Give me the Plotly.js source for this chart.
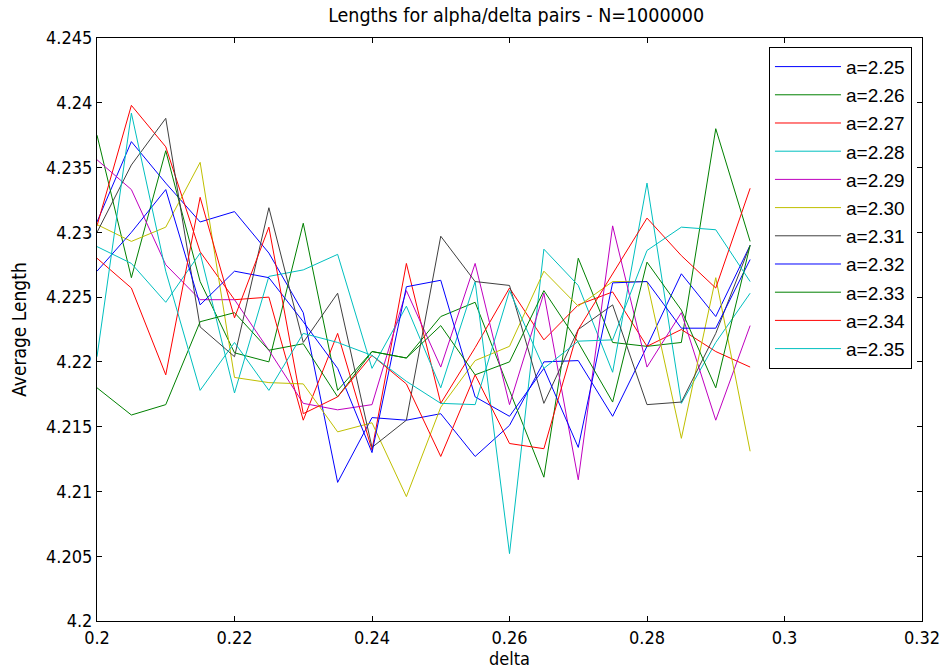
<!DOCTYPE html>
<html>
<head>
<meta charset="utf-8">
<script src="https://cdn.plot.ly/plotly-3.0.1.min.js"></script>
<style>html,body{margin:0;padding:0;background:#fff;}#chart{width:947px;height:672px;}</style>
</head>
<body>
<div id="chart"></div>
<script>
// x values (delta)
const delta = [0.2, 0.205, 0.21, 0.215, 0.22, 0.225, 0.23, 0.235, 0.24, 0.245,
               0.25, 0.255, 0.26, 0.265, 0.27, 0.275, 0.28, 0.285, 0.29, 0.295];

// series names
const seriesNames = ['a=2.25','a=2.26','a=2.27','a=2.28','a=2.29','a=2.30',
                     'a=2.31','a=2.32','a=2.33','a=2.34','a=2.35'];

// series values (average length)
const a225 = [4.2308, 4.2370, 4.2338, 4.2308, 4.2316, 4.2284, 4.2238, 4.2107, 4.2157, 4.2155,
              4.2160, 4.2127, 4.2151, 4.2200, 4.2201, 4.2158, 4.2212, 4.2268, 4.2235, 4.2290];
const a226 = [4.2375, 4.2265, 4.2363, 4.2262, 4.2207, 4.2200, 4.2307, 4.2178, 4.2208, 4.2203,
              4.2235, 4.2246, 4.2178, 4.2111, 4.2280, 4.2215, 4.2212, 4.2215, 4.2380, 4.2293];
const a227 = [4.2305, 4.2398, 4.2366, 4.2285, 4.2248, 4.2250, 4.2155, 4.2222, 4.2132, 4.2276,
              4.2168, 4.2211, 4.2257, 4.2217, 4.2244, 4.2254, 4.2212, 4.2225, 4.2208, 4.2196];
const a228 = [4.2289, 4.2276, 4.2246, 4.2284, 4.2176, 4.2266, 4.2271, 4.2283, 4.2195, 4.2243,
              4.2180, 4.2262, 4.2052, 4.2287, 4.2259, 4.2192, 4.2338, 4.2168, 4.2215, 4.2253];
const a229 = [4.2356, 4.2333, 4.2275, 4.2248, 4.2248, 4.2209, 4.2168, 4.2163, 4.2167, 4.2255,
              4.2196, 4.2276, 4.2167, 4.2253, 4.2109, 4.2305, 4.2196, 4.2238, 4.2155, 4.2228];
const a230 = [4.2306, 4.2293, 4.2304, 4.2354, 4.2188, 4.2184, 4.2183, 4.2146, 4.2153, 4.2096,
              4.2165, 4.2201, 4.2212, 4.2270, 4.2243, 4.2262, 4.2262, 4.2141, 4.2265, 4.2131];
const a231 = [4.2300, 4.2352, 4.2388, 4.2227, 4.2204, 4.2319, 4.2215, 4.2253, 4.2134, 4.2155,
              4.2297, 4.2262, 4.2259, 4.2168, 4.2225, 4.2244, 4.2167, 4.2169, 4.2222, 4.2290];
const a232 = [4.2270, 4.2300, 4.2333, 4.2244, 4.2270, 4.2265, 4.2231, 4.2195, 4.2130, 4.2258,
              4.2263, 4.2173, 4.2158, 4.2195, 4.2134, 4.2261, 4.2262, 4.2226, 4.2226, 4.2279];
const a233 = [4.2180, 4.2159, 4.2167, 4.2231, 4.2238, 4.2209, 4.2214, 4.2173, 4.2208, 4.2203,
              4.2228, 4.2190, 4.2200, 4.2255, 4.2215, 4.2169, 4.2277, 4.2240, 4.2180, 4.2290];
const a234 = [4.2280, 4.2257, 4.2190, 4.2327, 4.2234, 4.2304, 4.2160, 4.2173, 4.2205, 4.2183,
              4.2127, 4.2190, 4.2137, 4.2133, 4.2225, 4.2268, 4.2311, 4.2282, 4.2257, 4.2334];
const a235 = [4.2204, 4.2392, 4.2270, 4.2178, 4.2215, 4.2178, 4.2222, 4.2215, 4.2205, 4.2185,
              4.2168, 4.2167, 4.2255, 4.2195, 4.2216, 4.2217, 4.2286, 4.2304, 4.2302, 4.2262];

const seriesValues = [a225, a226, a227, a228, a229, a230, a231, a232, a233, a234, a235];

// tick labels
const xTickVals = [0.2, 0.22, 0.24, 0.26, 0.28, 0.3, 0.32];
const xTickText = ['0.2', '0.22', '0.24', '0.26', '0.28', '0.3', '0.32'];
const yTickVals = [4.2, 4.205, 4.21, 4.215, 4.22, 4.225, 4.23, 4.235, 4.24, 4.245];
const yTickText = ['4.2', '4.205', '4.21', '4.215', '4.22', '4.225', '4.23', '4.235', '4.24', '4.245'];

const palette = ['#0000ff', '#008000', '#ff0000', '#00bfbf', '#bf00bf', '#bfbf00', '#404040'];
const FONT = '"Liberation Sans Narrow", "DejaVu Sans Condensed", "Liberation Sans", Arial, sans-serif';
const LEGEND_FONT = '"Liberation Sans", Arial, sans-serif';

const traces = seriesValues.map((vals, i) => ({
  x: delta,
  y: vals,
  type: 'scatter',
  mode: 'lines',
  name: seriesNames[i],
  legendgroup: 'g' + i,
  line: { color: palette[i % palette.length], width: 1 }
}));

const axisCommon = {
  showline: true, linecolor: '#000', linewidth: 1, mirror: 'ticks',
  ticks: 'inside', ticklen: 5, tickcolor: '#000', tickwidth: 1,
  showgrid: false, zeroline: false,
  tickfont: { family: FONT, size: 18, color: '#000' }
};

const layout = {
  width: 947, height: 672,
  margin: { l: 97, r: 25, t: 38, b: 51, pad: 0 },
  paper_bgcolor: '#fff', plot_bgcolor: '#fff',
  font: { family: FONT, size: 18, color: '#000' },
  title: { text: 'Lengths for alpha/delta pairs - N=1000000', x: 0.545, xanchor: 'center',
           y: 0.977, yanchor: 'middle', font: { family: FONT, size: 19.5, color: '#000' } },
  xaxis: Object.assign({}, axisCommon, {
    range: [0.2, 0.32], tickmode: 'array', tickvals: xTickVals, ticktext: xTickText,
    title: { text: 'delta', standoff: 4, font: { family: FONT, size: 18, color: '#000' } }
  }),
  yaxis: Object.assign({}, axisCommon, {
    range: [4.2, 4.245], tickmode: 'array', tickvals: yTickVals, ticktext: yTickText,
    title: { text: 'Average Length', standoff: 14, font: { family: FONT, size: 19, color: '#000' } }
  }),
  showlegend: true,
  legend: {
    x: 0.8145, y: 0.985, xanchor: 'left', yanchor: 'top',
    bgcolor: '#fff', bordercolor: '#000', borderwidth: 1,
    font: { family: LEGEND_FONT, size: 19, color: '#000' },
    tracegroupgap: 0.5, itemwidth: 66,
    traceorder: 'grouped'
  }
};

Plotly.newPlot('chart', traces, layout, { staticPlot: true, displayModeBar: false });
</script>
</body>
</html>
